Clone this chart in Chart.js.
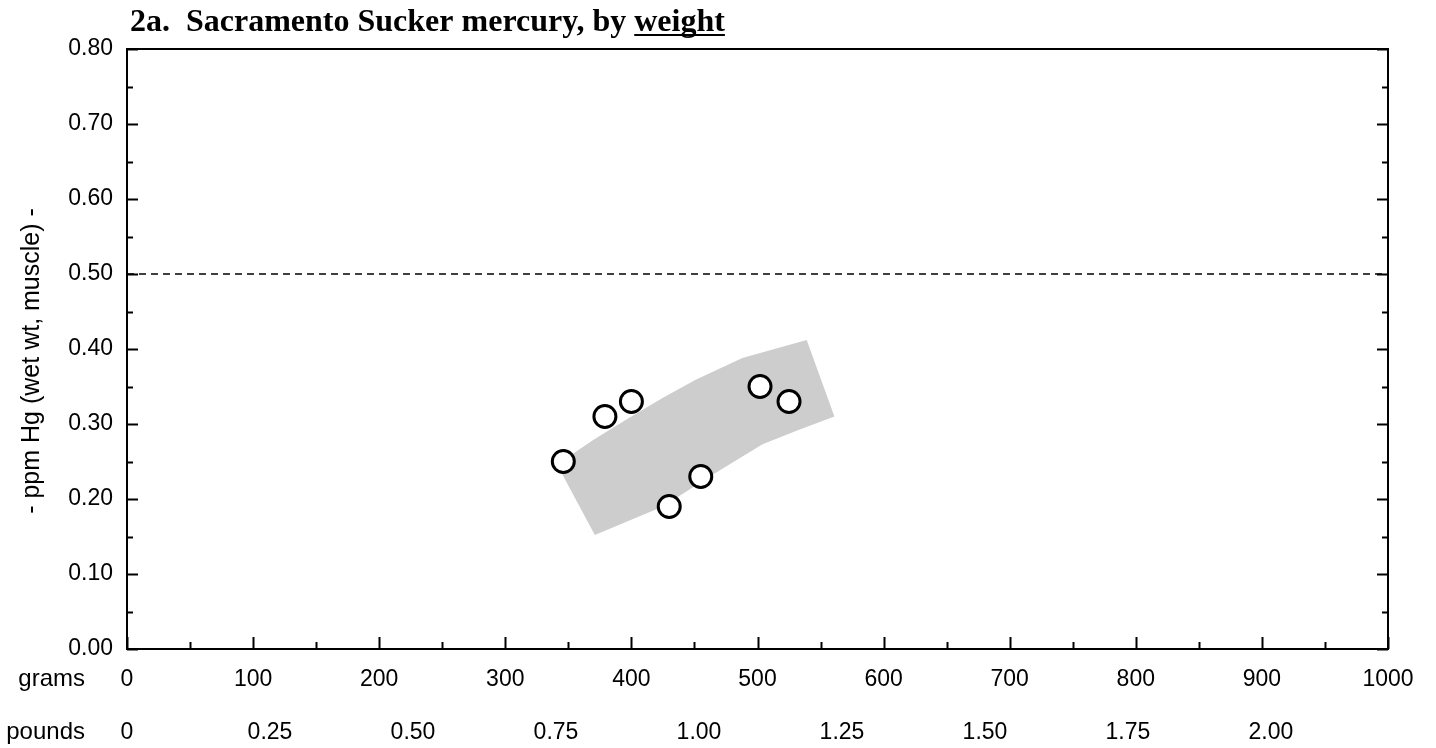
<!DOCTYPE html>
<html>
<head>
<meta charset="utf-8">
<title>Sacramento Sucker mercury, by weight</title>
<script src="https://cdn.jsdelivr.net/npm/chart.js@4.4.0/dist/chart.umd.min.js"></script>
<style>
  html, body { margin: 0; padding: 0; background: #fff; }
  #wrap { width: 1436px; height: 748px; }
</style>
</head>
<body>
<div id="wrap"><canvas id="chart" width="1436" height="748"></canvas></div>
<script>
// --- data ---
const fishGrams = [346, 379, 400, 430, 455, 502, 525];
const fishHg = [0.25, 0.31, 0.33, 0.19, 0.23, 0.35, 0.33];

// grey band around the fitted trend (outline, clockwise from left end)
const bandGrams = [341, 370, 398, 425, 451, 488, 539, 561, 534, 504, 465, 425, 371];
const bandHg = [0.246, 0.279, 0.308, 0.335, 0.359, 0.388, 0.412, 0.310, 0.293, 0.273, 0.233, 0.190, 0.152];

const limitHg = 0.5; // dashed guideline

const poundLabels = ["0", "0.25", "0.50", "0.75", "1.00", "1.25", "1.50", "1.75", "2.00"];
const GRAMS_PER_POUND = 453.592;

const TEXT_FONT = "'Liberation Sans', Arial, sans-serif";
const TITLE_FONT = "'Liberation Serif', 'Times New Roman', serif";
const LABEL_SIZE = 23;

// frame, inward tick marks, titles and row captions
const framePlugin = {
  id: "frame",
  afterDatasetsDraw(chart) {
    const { ctx, chartArea: a, scales } = chart;
    const x = scales.x, y = scales.y;
    ctx.save();
    ctx.strokeStyle = "#000";
    ctx.lineWidth = 2;
    ctx.strokeRect(a.left, a.top, a.right - a.left, a.bottom - a.top);

    ctx.beginPath();
    for (let i = 0; i <= 16; i++) {
      const py = Math.round(y.getPixelForValue(i * 0.05)) + 0.5;
      const len = i % 2 === 0 ? 11 : 6;
      ctx.moveTo(a.left, py); ctx.lineTo(a.left + len, py);
      ctx.moveTo(a.right, py); ctx.lineTo(a.right - len, py);
    }
    for (let i = 0; i <= 20; i++) {
      const px = Math.round(x.getPixelForValue(i * 50)) + 0.5;
      const len = i % 2 === 0 ? 12 : 7;
      ctx.moveTo(px, a.bottom); ctx.lineTo(px, a.bottom - len);
    }
    ctx.stroke();
    ctx.restore();
  },
  afterDraw(chart) {
    const { ctx, scales, chartArea: a } = chart;
    ctx.save();
    // title with underlined last word
    ctx.fillStyle = "#000";
    ctx.font = "bold 32px " + TITLE_FONT;
    ctx.textBaseline = "alphabetic";
    ctx.textAlign = "left";
    const head = "2a.  Sacramento Sucker mercury, by ";
    const tail = "weight";
    const tx = 130, ty = 31;
    ctx.fillText(head, tx, ty);
    const hw = ctx.measureText(head).width;
    const ww = ctx.measureText(tail).width;
    ctx.fillText(tail, tx + hw, ty);
    ctx.fillRect(tx + hw, ty + 3, ww, 2);

    // y axis title, sitting a little below the axis middle as in the original
    ctx.save();
    ctx.translate(32, (a.top + a.bottom) / 2 + 12);
    ctx.rotate(-Math.PI / 2);
    ctx.font = "25px " + TEXT_FONT;
    ctx.textAlign = "center";
    ctx.textBaseline = "middle";
    ctx.fillText("- ppm Hg (wet wt, muscle) -", 0, 0);
    ctx.restore();

    // row captions for the two bottom axes
    ctx.font = "24px " + TEXT_FONT;
    ctx.textAlign = "right";
    ctx.textBaseline = "middle";
    const half = LABEL_SIZE * 1.2 / 2;
    ctx.fillText("grams", 85, scales.x.top + scales.x.options.ticks.padding + half);
    ctx.fillText("pounds", 85, scales.x2.top + scales.x2.options.ticks.padding + half);
    ctx.restore();
  }
};

new Chart(document.getElementById("chart"), {
  type: "scatter",
  data: {
    datasets: [
      {
        label: "fish",
        data: fishGrams.map((g, i) => ({ x: g, y: fishHg[i] })),
        pointRadius: 11,
        pointBorderWidth: 3,
        pointBackgroundColor: "#fff",
        pointBorderColor: "#000",
        order: 1
      },
      {
        label: "0.5 ppm",
        data: [{ x: 0, y: limitHg }, { x: 1000, y: limitHg }],
        showLine: true,
        borderColor: "#000",
        borderWidth: 1.5,
        borderDash: [7, 5],
        pointRadius: 0,
        order: 2
      },
      {
        label: "band",
        data: bandGrams.map((g, i) => ({ x: g, y: bandHg[i] })),
        showLine: true,
        fill: "shape",
        backgroundColor: "#cdcdcd",
        borderColor: "rgba(0,0,0,0)",
        borderWidth: 0,
        pointRadius: 0,
        tension: 0,
        order: 3
      }
    ]
  },
  options: {
    responsive: false,
    animation: false,
    events: [],
    layout: { padding: { left: 0, right: 48, top: 49, bottom: 0 } },
    plugins: {
      legend: { display: false },
      tooltip: { enabled: false }
    },
    scales: {
      x: {
        type: "linear",
        position: "bottom",
        min: 0,
        max: 1000,
        ticks: {
          stepSize: 100,
          callback: v => String(v),
          color: "#000",
          font: { family: TEXT_FONT, size: LABEL_SIZE },
          padding: 17,
          maxRotation: 0,
          autoSkip: false
        },
        grid: { display: false, drawTicks: false },
        border: { display: true, color: "#000", width: 2 },
        afterFit: s => { s.height = 52; }
      },
      x2: {
        type: "linear",
        position: "bottom",
        min: 0,
        max: 1000,
        afterBuildTicks: s => {
          s.ticks = poundLabels.map(l => ({ value: parseFloat(l) * GRAMS_PER_POUND }));
        },
        ticks: {
          callback: (v, i) => poundLabels[i],
          color: "#000",
          font: { family: TEXT_FONT, size: LABEL_SIZE },
          padding: 18,
          maxRotation: 0,
          autoSkip: false
        },
        grid: { display: false, drawTicks: false },
        border: { display: false },
        afterFit: s => { s.height = 47; }
      },
      y: {
        min: 0,
        max: 0.8,
        ticks: {
          stepSize: 0.1,
          callback: v => v.toFixed(2),
          color: "#000",
          font: { family: TEXT_FONT, size: LABEL_SIZE },
          padding: 14
        },
        grid: { display: false, drawTicks: false },
        border: { display: true, color: "#000", width: 2 },
        afterFit: s => { s.width = 127; }
      }
    }
  },
  plugins: [framePlugin]
});
</script>
</body>
</html>
